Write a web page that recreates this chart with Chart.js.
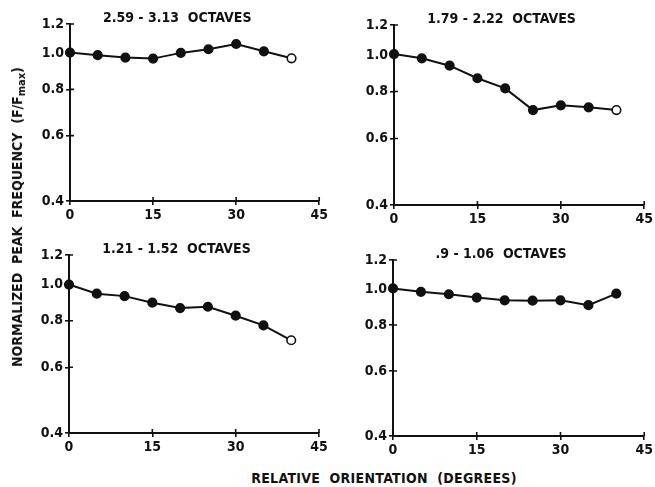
<!DOCTYPE html>
<html>
<head>
<meta charset="utf-8">
<script src="https://cdn.jsdelivr.net/npm/chart.js@4/dist/chart.umd.min.js"></script>
<style>
  html, body { margin: 0; padding: 0; background: #fff; }
  #wrap { position: relative; width: 655px; height: 487px; overflow: hidden; background: #fff; }
  canvas { position: absolute; }
  .lbl { position: absolute; font-family: 'DejaVu Sans Condensed', 'Liberation Sans Narrow', sans-serif; font-weight: bold; color: #111; white-space: pre; font-size: 14px; line-height: 14px; }
  #ylab { left: 17px; top: 217px; transform: translate(-50%, -50%) rotate(-90deg); }
  #xlab { left: 384px; top: 478px; transform: translate(-50%, -50%); letter-spacing: 0.3px; }
  sub { font-size: 11px; vertical-align: -3px; line-height: 0; }
</style>
</head>
<body>
<div id="wrap">
  <canvas id="c1"></canvas>
  <canvas id="c2"></canvas>
  <canvas id="c3"></canvas>
  <canvas id="c4"></canvas>
  <div class="lbl" id="ylab">NORMALIZED  PEAK  FREQUENCY  (F/F<sub>max</sub>)</div>
  <div class="lbl" id="xlab">RELATIVE  ORIENTATION  (DEGREES)</div>
</div>
<script>
// ---- data ----
const angles = [0, 5, 10, 15, 20, 25, 30, 35, 40];
const xTicks = [0, 15, 30, 45];
const yTicks = [0.4, 0.6, 0.8, 1.0, 1.2];
const titles = ['2.59 - 3.13  OCTAVES', '1.79 - 2.22  OCTAVES', '1.21 - 1.52  OCTAVES', '.9 - 1.06  OCTAVES'];
const band1 = [1.005, 0.989, 0.974, 0.968, 1.003, 1.026, 1.060, 1.013, 0.970];
const band2 = [1.005, 0.979, 0.936, 0.867, 0.815, 0.714, 0.735, 0.726, 0.714];
const band3 = [1.000, 0.945, 0.931, 0.894, 0.865, 0.872, 0.825, 0.777, 0.709];
const band4 = [1.005, 0.984, 0.969, 0.949, 0.933, 0.931, 0.933, 0.905, 0.973];
const openLast = [true, true, true, false];

// ---- layout ----
const FONT = "'DejaVu Sans Condensed', 'Liberation Sans Narrow', sans-serif";
const YW = 36, XH = 24;
const panels = [
  { id: 'c1', canvas: {x: 25, y: 0, w: 305, h: 230}, area: {l: 70, t: 24, r: 321, b: 201}, data: band1 },
  { id: 'c2', canvas: {x: 335, y: 0, w: 320, h: 230}, area: {l: 394, t: 25, r: 646, b: 205}, data: band2 },
  { id: 'c3', canvas: {x: 25, y: 230, w: 305, h: 235}, area: {l: 69, t: 255, r: 319, b: 433}, data: band3 },
  { id: 'c4', canvas: {x: 335, y: 230, w: 320, h: 235}, area: {l: 393, t: 260, r: 645, b: 436}, data: band4 }
];

const crossTicks = {
  id: 'crossTicks',
  afterDatasetsDraw(chart) {
    const ctx = chart.ctx, a = chart.chartArea;
    const xs = chart.scales.x, ys = chart.scales.y;
    ctx.save();
    ctx.strokeStyle = '#111';
    ctx.lineWidth = 1.6;
    ctx.beginPath();
    xTicks.forEach(v => {
      if (v === 0) return;
      const px = xs.getPixelForValue(v);
      ctx.moveTo(px, a.bottom); ctx.lineTo(px, a.bottom - 4);
    });
    yTicks.forEach(v => {
      if (v === 0.4) return;
      const py = ys.getPixelForValue(v);
      ctx.moveTo(a.left, py); ctx.lineTo(a.left + 4, py);
    });
    ctx.stroke();
    ctx.restore();
  }
};

const panelTitle = {
  id: 'panelTitle',
  afterDraw(chart, args, opts) {
    const ctx = chart.ctx, a = chart.chartArea;
    ctx.save();
    ctx.font = 'bold 14px ' + FONT;
    ctx.fillStyle = '#111';
    ctx.textAlign = 'center';
    ctx.textBaseline = 'middle';
    ctx.fillText(opts.text, a.left + 0.43 * (a.right - a.left), a.top - 6);
    ctx.restore();
  }
};

panels.forEach((p, i) => {
  const cv = document.getElementById(p.id);
  cv.style.left = p.canvas.x + 'px';
  cv.style.top = p.canvas.y + 'px';
  cv.width = p.canvas.w; cv.height = p.canvas.h;
  cv.style.width = p.canvas.w + 'px'; cv.style.height = p.canvas.h + 'px';
  const pad = {
    left: p.area.l - p.canvas.x - YW,
    right: p.canvas.x + p.canvas.w - p.area.r,
    top: p.area.t - p.canvas.y,
    bottom: p.canvas.y + p.canvas.h - p.area.b - XH
  };
  const last = angles.length - 1;
  new Chart(cv, {
    type: 'line',
    data: {
      datasets: [{
        data: angles.map((a, k) => ({x: a, y: p.data[k]})),
        borderColor: '#111',
        borderWidth: 2,
        pointRadius: 4.3,
        pointBorderWidth: 1.6,
        pointBorderColor: '#111',
        pointBackgroundColor: ctx => (openLast[i] && ctx.dataIndex === last) ? '#fff' : '#111',
        tension: 0,
        clip: false
      }]
    },
    plugins: [crossTicks, panelTitle],
    options: {
      responsive: false,
      animation: false,
      devicePixelRatio: 1,
      layout: { padding: pad },
      plugins: {
        legend: { display: false },
        tooltip: { enabled: false },
        panelTitle: { text: titles[i] }
      },
      scales: {
        x: {
          type: 'linear', min: 0, max: 45,
          afterBuildTicks: s => { s.ticks = xTicks.map(v => ({value: v})); },
          afterFit: s => { s.height = XH; },
          grid: { drawOnChartArea: false, drawTicks: true, tickLength: 4, color: '#111', lineWidth: 1.6 },
          border: { display: true, color: '#111', width: 2 },
          ticks: { color: '#111', padding: 2, maxRotation: 0, font: { family: FONT, size: 14, weight: 'bold' } }
        },
        y: {
          type: 'logarithmic', min: 0.4, max: 1.2,
          afterBuildTicks: s => { s.ticks = yTicks.map(v => ({value: v})); },
          afterFit: s => { s.width = YW; },
          grid: { drawOnChartArea: false, drawTicks: true, tickLength: 4, color: '#111', lineWidth: 1.6 },
          border: { display: true, color: '#111', width: 2 },
          ticks: { color: '#111', padding: 2, font: { family: FONT, size: 14, weight: 'bold' },
                   callback: v => Number(v).toFixed(1) }
        }
      }
    }
  });
});
</script>
</body>
</html>
